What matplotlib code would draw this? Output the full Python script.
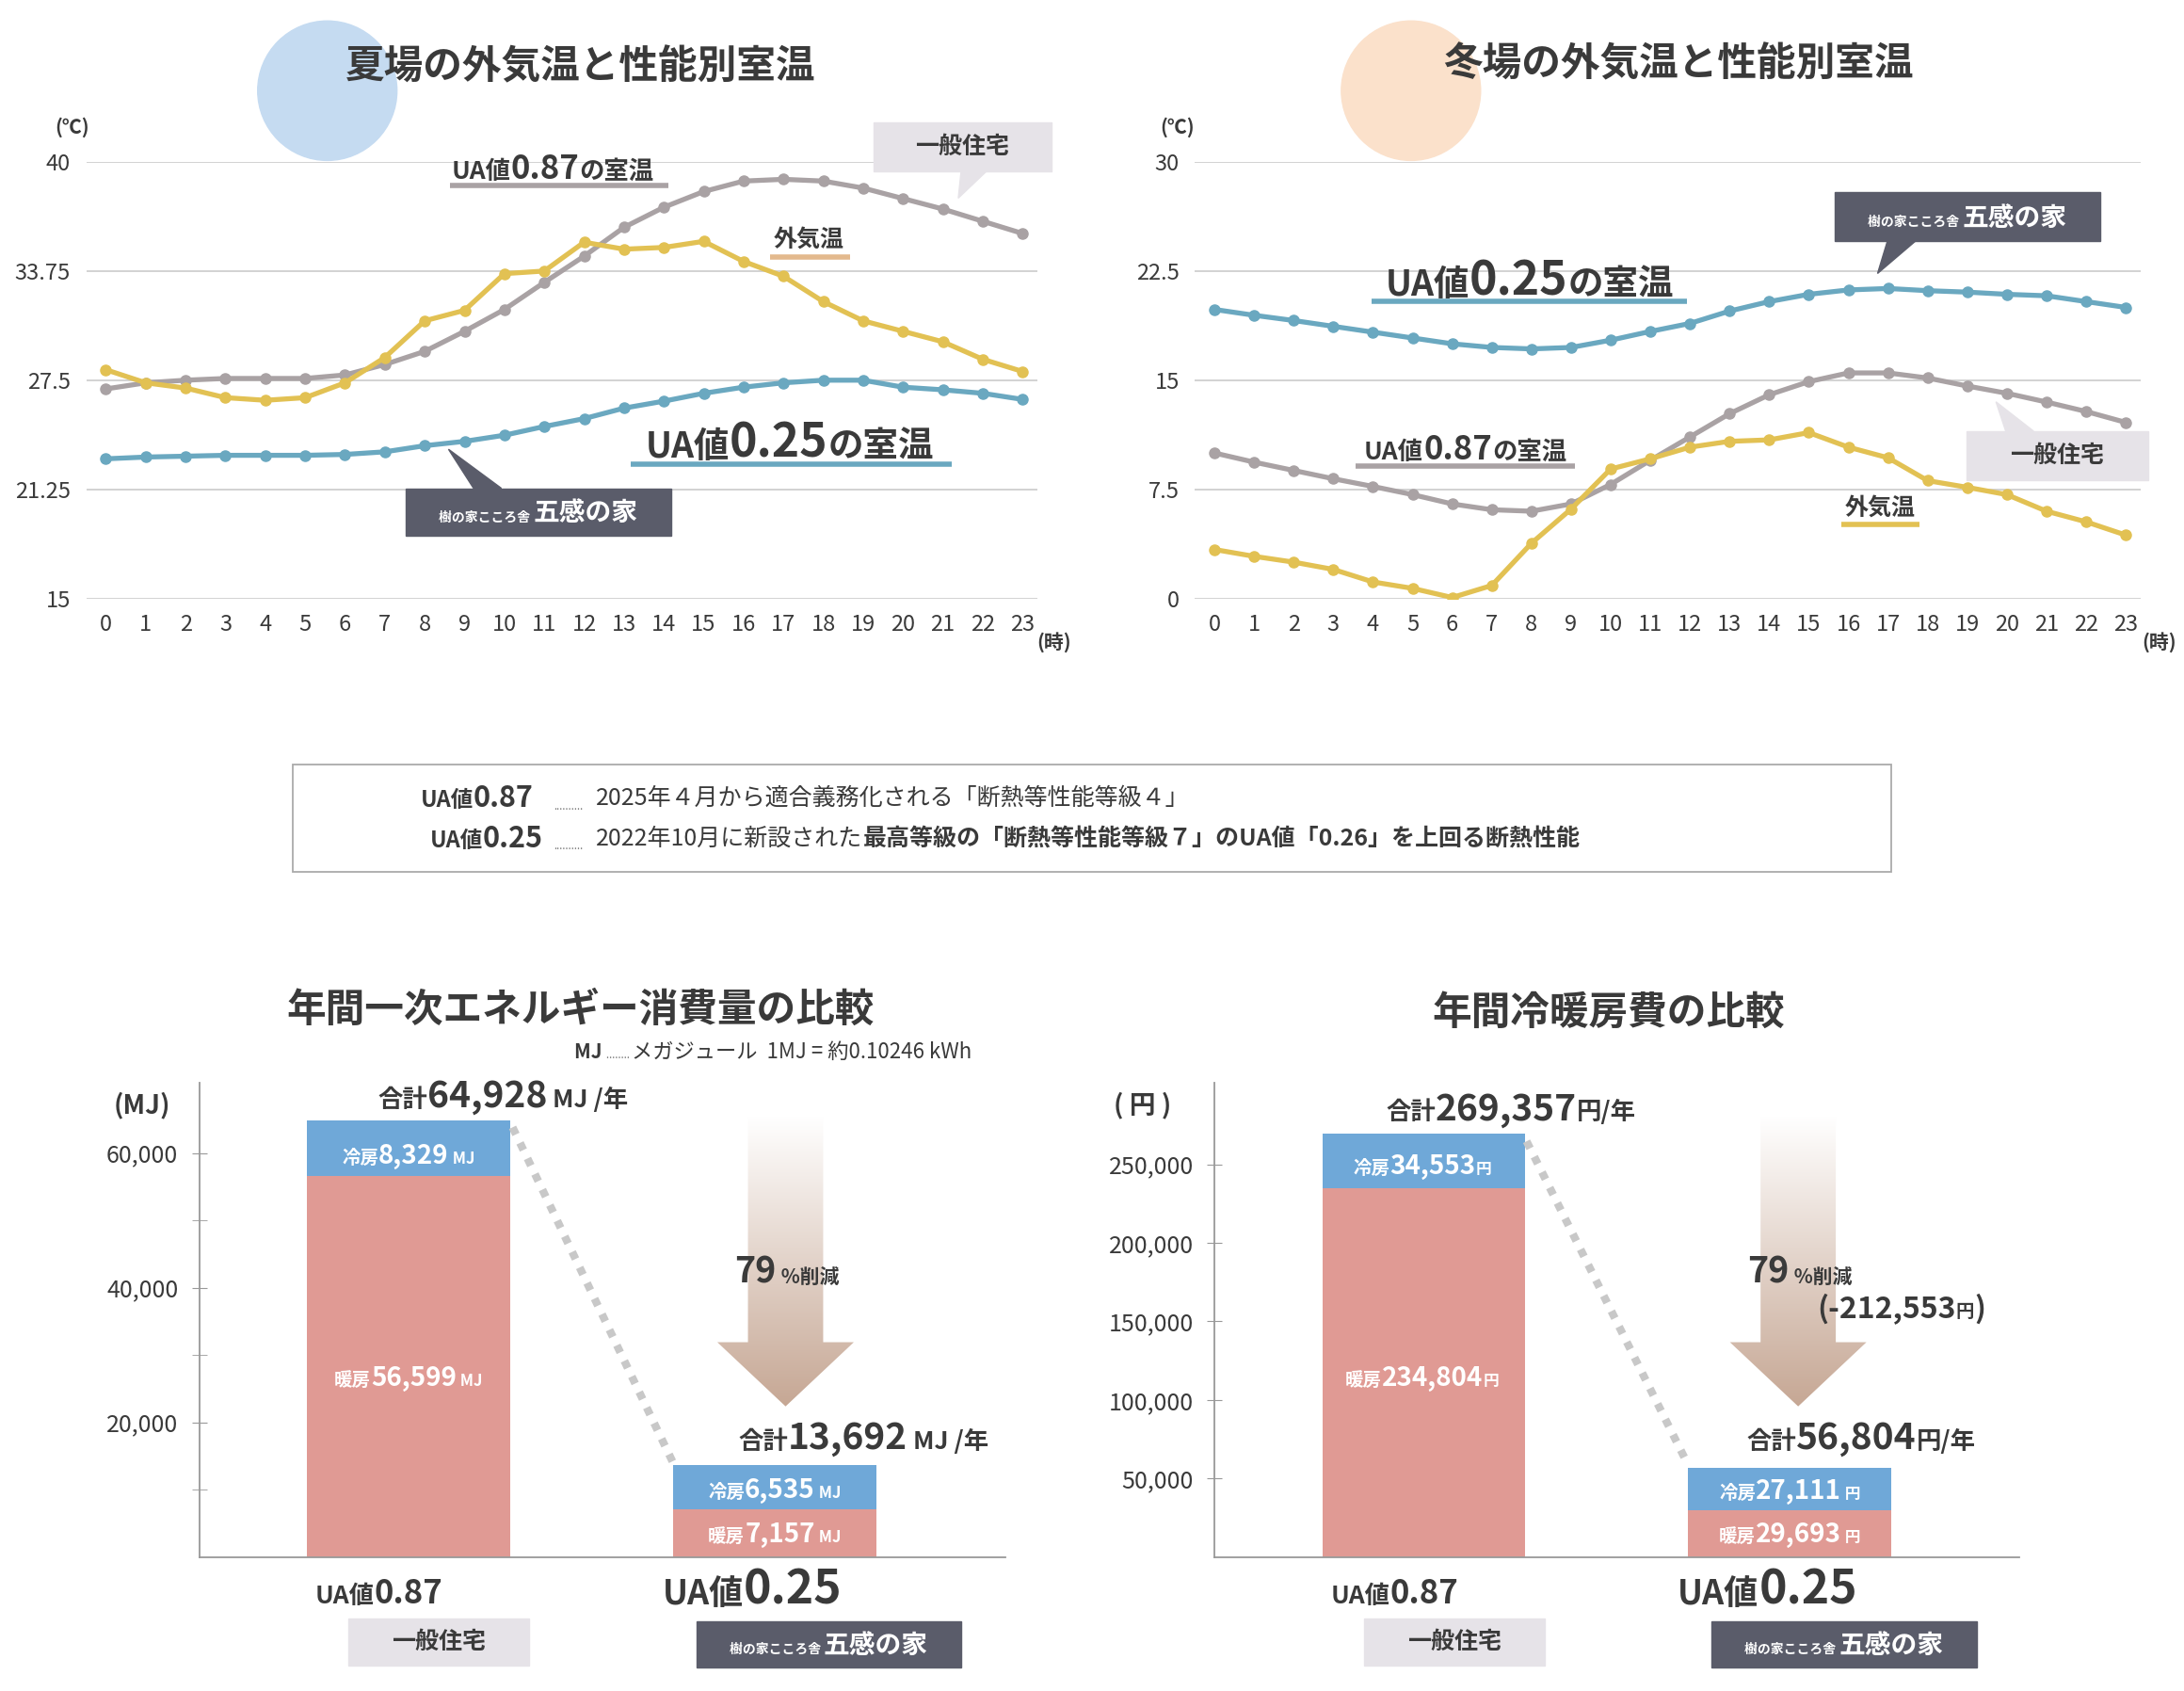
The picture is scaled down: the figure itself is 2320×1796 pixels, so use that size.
import numpy as np
import matplotlib.pyplot as plt
from matplotlib.patches import Rectangle, Polygon, Ellipse
from matplotlib.offsetbox import TextArea, HPacker, AnnotationBbox
from matplotlib.colors import LinearSegmentedColormap

FAM = ['Noto Sans CJK JP', 'DejaVu Sans']
plt.rcParams['font.family'] = FAM

HOURS = list(range(24))
SUMMER_OUT = [28.1, 27.35, 27.05, 26.5, 26.35, 26.5, 27.35, 28.8, 30.9, 31.5, 33.6, 33.75,
              35.4, 35.0, 35.1, 35.45, 34.3, 33.45, 32.0, 30.9, 30.3, 29.7, 28.7, 28.0]
SUMMER_087 = [27.0, 27.35, 27.5, 27.6, 27.6, 27.6, 27.8, 28.4, 29.15, 30.3, 31.55, 33.1,
              34.6, 36.25, 37.4, 38.3, 38.9, 39.0, 38.9, 38.5, 37.9, 37.3, 36.6, 35.9]
SUMMER_025 = [23.0, 23.1, 23.15, 23.2, 23.2, 23.2, 23.25, 23.4, 23.75, 24.0, 24.35, 24.85,
              25.3, 25.9, 26.3, 26.75, 27.1, 27.35, 27.5, 27.5, 27.1, 26.95, 26.75, 26.4]
WINTER_OUT = [3.37, 2.9, 2.5, 2.0, 1.14, 0.7, 0.07, 0.9, 3.8, 6.15, 8.9, 9.6,
              10.4, 10.8, 10.9, 11.4, 10.4, 9.67, 8.1, 7.64, 7.14, 6.0, 5.27, 4.36]
WINTER_087 = [10.0, 9.37, 8.8, 8.23, 7.7, 7.14, 6.5, 6.1, 6.0, 6.5, 7.84, 9.5,
              11.1, 12.7, 14.0, 14.9, 15.5, 15.5, 15.15, 14.6, 14.1, 13.5, 12.85, 12.1]
WINTER_025 = [19.86, 19.46, 19.1, 18.7, 18.3, 17.9, 17.5, 17.25, 17.15, 17.25, 17.75, 18.35,
              18.9, 19.75, 20.4, 20.9, 21.2, 21.3, 21.15, 21.05, 20.9, 20.8, 20.4, 20.0]
SUMMER_TICKS = [15, 21.25, 27.5, 33.75, 40]
WINTER_TICKS = [0, 7.5, 15, 22.5, 30]

ENERGY_COOL = [8329, 6535]
ENERGY_HEAT = [56599, 7157]
COST_COOL = [34553, 27111]
COST_HEAT = [234804, 29693]

YELLOW = '#e2c153'
GRAY = '#a9a2a4'
BLUE = '#6aa8c0'
HEAT = '#e09a94'
COOL = '#6fa8d8'
DARK = '#3a3a3a'
BOXDARK = '#5a5c6a'
BOXLIGHT = '#e6e3e8'

W, H = 1568, 1212
fig = plt.figure(figsize=(23.2, 17.96), dpi=100)


def rect(x0, y0, x1, y1):
    return [x0 / W, 1 - y1 / H, (x1 - x0) / W, (y1 - y0) / H]


def line_chart(pos, series, ticks):
    ax = fig.add_axes(pos)
    for ys, c in series:
        ax.plot(HOURS, ys, '-o', color=c, lw=3.8, ms=8, zorder=3)
    ax.set_ylim(ticks[0], ticks[-1])
    ax.set_xlim(-0.49, 23.38)
    ax.set_yticks(ticks)
    ax.set_yticklabels([('%g' % t) for t in ticks])
    ax.set_xticks(HOURS)
    ax.grid(axis='y', color='#cfcfcf', lw=1.3)
    ax.tick_params(length=0, labelsize=17, colors=DARK, pad=12)
    for s in ax.spines.values():
        s.set_visible(False)
    return ax


line_chart(rect(62, 116, 745, 429),
           [(SUMMER_087, GRAY), (SUMMER_OUT, YELLOW), (SUMMER_025, BLUE)], SUMMER_TICKS)
line_chart(rect(858, 116, 1537, 429),
           [(WINTER_087, GRAY), (WINTER_OUT, YELLOW), (WINTER_025, BLUE)], WINTER_TICKS)


def bar_chart(pos, cool, heat, ymax, ticks, minor):
    ax = fig.add_axes(pos)
    xs = [2.6, 7.14]
    ax.bar(xs, heat, width=2.52, color=HEAT, zorder=2)
    ax.bar(xs, cool, bottom=heat, width=2.52, color=COOL, zorder=2)
    ax.set_xlim(0, 10)
    ax.set_ylim(0, ymax)
    ax.set_xticks([])
    ax.set_yticks(ticks)
    ax.set_yticklabels(['{:,}'.format(t) for t in ticks])
    ax.set_yticks(minor, minor=True)
    ax.tick_params(axis='y', which='both', length=12, direction='inout', color='#999999',
                   labelsize=18, labelcolor=DARK, pad=10)
    for k in ('top', 'right'):
        ax.spines[k].set_visible(False)
    for k in ('left', 'bottom'):
        ax.spines[k].set_color('#999999')
        ax.spines[k].set_linewidth(1.3)
    return ax


bar_chart(rect(143, 776, 722, 1116), ENERGY_COOL, ENERGY_HEAT, 70466,
          [20000, 40000, 60000], [10000, 30000, 50000])
bar_chart(rect(872, 776, 1450, 1116), COST_COOL, COST_HEAT, 302000,
          [50000, 100000, 150000, 200000, 250000], [])

# overlay canvas in picture pixel coordinates
cv = fig.add_axes([0, 0, 1, 1], zorder=5)
cv.set_xlim(0, W)
cv.set_ylim(H, 0)
cv.axis('off')
cv.patch.set_alpha(0)


def txt(x, y, s, size, color=DARK, weight='bold', ha='center', va='center', **kw):
    cv.text(x, y, s, fontsize=size, color=color, fontweight=weight, ha=ha, va=va, zorder=8, **kw)


def rich(x, y, parts, align=(0.5, 0.5)):
    kids = [TextArea(t, textprops=dict(fontsize=s, color=c, fontweight=w, family=FAM))
            for t, s, c, w in parts]
    box = HPacker(children=kids, align='baseline', pad=0, sep=0)
    ab = AnnotationBbox(box, (x, y), xycoords='data', box_alignment=align,
                        frameon=False, pad=0)
    ab.set_zorder(8)
    cv.add_artist(ab)


def label_box(x0, y0, x1, y1, color, pointer=None):
    cv.add_patch(Rectangle((x0, y0), x1 - x0, y1 - y0, color=color, zorder=4))
    if pointer:
        cv.add_patch(Polygon(pointer, color=color, zorder=4))


def gokan(x0, y0, x1, y1, pointer=None):
    label_box(x0, y0, x1, y1, BOXDARK, pointer)
    rich((x0 + x1) / 2, (y0 + y1) / 2 + 1, [('樹の家こころ舎 ', 10, 'white', 'bold'),
                                            ('五感の家', 20, 'white', 'bold')])


def ippan(x0, y0, x1, y1, pointer=None):
    label_box(x0, y0, x1, y1, BOXLIGHT, pointer)
    txt((x0 + x1) / 2, (y0 + y1) / 2, '一般住宅', 18)


def ua(x, y, val, s1, s2, tail='の室温', s3=None):
    parts = [('UA値', s1, DARK, 'bold'), (val, s2, DARK, 'bold')]
    if tail:
        parts.append((tail, s3 or s1, DARK, 'bold'))
    rich(x, y, parts)


def underline(x0, x1, y, color):
    cv.plot([x0, x1], [y, y], color=color, lw=4, solid_capstyle='butt')


# circles and titles
cv.add_patch(Ellipse((235, 65), 100, 100, color='#c5dbf1', zorder=0))
cv.add_patch(Ellipse((1013, 65), 100, 100, color='#fbe1cb', zorder=0))
txt(417, 48, '夏場の外気温と性能別室温', 30)
txt(1205, 46, '冬場の外気温と性能別室温', 30)
for x in (52, 845):
    txt(x, 91, '(℃)', 15)
txt(757, 460, '(時)', 15)
txt(1550, 460, '(時)', 15)

# summer annotations
ippan(627, 88, 755, 123, [(690, 123), (708, 123), (688, 142)])
ua(397, 121, '0.87', 19, 25)
underline(323, 480, 133, GRAY)
txt(581, 172, '外気温', 18)
underline(553, 610, 184, '#e3b98d')
ua(567, 318, '0.25', 27, 36)
underline(453, 683, 333, BLUE)
gokan(291, 350, 482, 384, [(340, 350), (360, 350), (322, 322)])

# winter annotations
gokan(1317, 138, 1508, 173, [(1355, 173), (1375, 173), (1348, 196)])
ua(1098, 202, '0.25', 27, 36)
underline(985, 1211, 216, BLUE)
ua(1052, 322, '0.87', 19, 25)
underline(973, 1131, 334, GRAY)
ippan(1412, 309, 1542, 344, [(1440, 309), (1460, 309), (1433, 288)])
txt(1350, 364, '外気温', 18)
underline(1322, 1378, 376, YELLOW)

# note box
cv.add_patch(Rectangle((210, 548), 1148, 77, fill=False, ec='#aaaaaa', lw=1.3))
rich(383, 572, [('UA値', 17, DARK, 'bold'), ('0.87', 22, DARK, 'bold')], align=(1, 0.5))
rich(390, 601, [('UA値', 17, DARK, 'bold'), ('0.25', 22, DARK, 'bold')], align=(1, 0.5))
txt(408, 578, '..........', 8, color='#777777', weight='normal')
txt(408, 607, '..........', 8, color='#777777', weight='normal')
txt(428, 572, '2025年４月から適合義務化される「断熱等性能等級４」', 18, weight='normal', ha='left')
rich(428, 601, [('2022年10月に新設された', 18, DARK, 'normal'),
                ('最高等級の「断熱等性能等級７」のUA値「0.26」を上回る断熱性能', 18, DARK, 'bold')],
     align=(0, 0.5))

# bottom titles
txt(417, 724, '年間一次エネルギー消費量の比較', 30)
txt(1155, 726, '年間冷暖房費の比較', 30)
rich(412, 754, [('MJ ', 15, DARK, 'bold'), ('........ ', 8, '#777777', 'normal'),
                ('メガジュール  1MJ = 約0.10246 kWh', 16, DARK, 'normal')], align=(0, 0.5))
txt(102, 792, '(MJ)', 20)
txt(820, 792, '( 円 )', 20)

# totals
rich(361, 786, [('合計', 19, DARK, 'bold'), ('64,928', 28, DARK, 'bold'), (' MJ /年', 19, DARK, 'bold')])
rich(620, 1031, [('合計', 19, DARK, 'bold'), ('13,692', 28, DARK, 'bold'), (' MJ /年', 19, DARK, 'bold')])
rich(1085, 795, [('合計', 19, DARK, 'bold'), ('269,357', 28, DARK, 'bold'), ('円/年', 19, DARK, 'bold')])
rich(1336, 1031, [('合計', 19, DARK, 'bold'), ('56,804', 28, DARK, 'bold'), ('円/年', 19, DARK, 'bold')])


def barlab(x, y, kind, val, unit):
    rich(x, y, [(kind, 14, 'white', 'bold'), (val, 20, 'white', 'bold'), (unit, 12, 'white', 'bold')])


barlab(293, 829, '冷房', '8,329', ' MJ')
barlab(293, 988, '暖房', '56,599', ' MJ')
barlab(556, 1068, '冷房', '6,535', ' MJ')
barlab(556, 1100, '暖房', '7,157', ' MJ')
barlab(1021, 836, '冷房', '34,553', '円')
barlab(1021, 988, '暖房', '234,804', '円')
barlab(1285, 1069, '冷房', '27,111', ' 円')
barlab(1285, 1100, '暖房', '29,693', ' 円')

# dotted connectors
cv.plot([368, 484], [808, 1050], color='#c8c8c8', lw=6, ls=(0, (1, 1.2)))
cv.plot([1096, 1212], [818, 1050], color='#c8c8c8', lw=6, ls=(0, (1, 1.2)))

# gradient arrows
grad = np.linspace(0, 1, 256).reshape(-1, 1)
cmap = LinearSegmentedColormap.from_list('arr', ['#ffffff', '#c6a794'])
for cx in (564, 1291):
    pts = [(cx - 27, 800), (cx + 27, 800), (cx + 27, 962), (cx + 49, 962), (cx, 1008),
           (cx - 49, 962), (cx - 27, 962)]
    poly = Polygon(pts, closed=True, facecolor='none', edgecolor='none')
    cv.add_patch(poly)
    im = cv.imshow(grad, cmap=cmap, extent=(cx - 50, cx + 50, 1008, 800), aspect='auto', zorder=1)
    im.set_clip_path(poly)
cv.set_xlim(0, W)
cv.set_ylim(H, 0)

rich(565, 912, [('79', 27, DARK, 'bold'), (' %削減', 15, DARK, 'bold')])
rich(1292, 912, [('79', 27, DARK, 'bold'), (' %削減', 15, DARK, 'bold')])
rich(1365, 938, [('(-212,553', 23, DARK, 'bold'), ('円', 14, DARK, 'bold'), (')', 23, DARK, 'bold')])

# category labels
for off in (0, 729):
    ua(272 + off, 1142, '0.87', 19, 25, tail=None)
    ippan(250 + off, 1160, 380 + off, 1194)
    ua(540 + off, 1140, '0.25', 26, 36, tail=None)
    gokan(500 + off, 1162, 690 + off, 1195)

fig.savefig('out.png', dpi=100)
